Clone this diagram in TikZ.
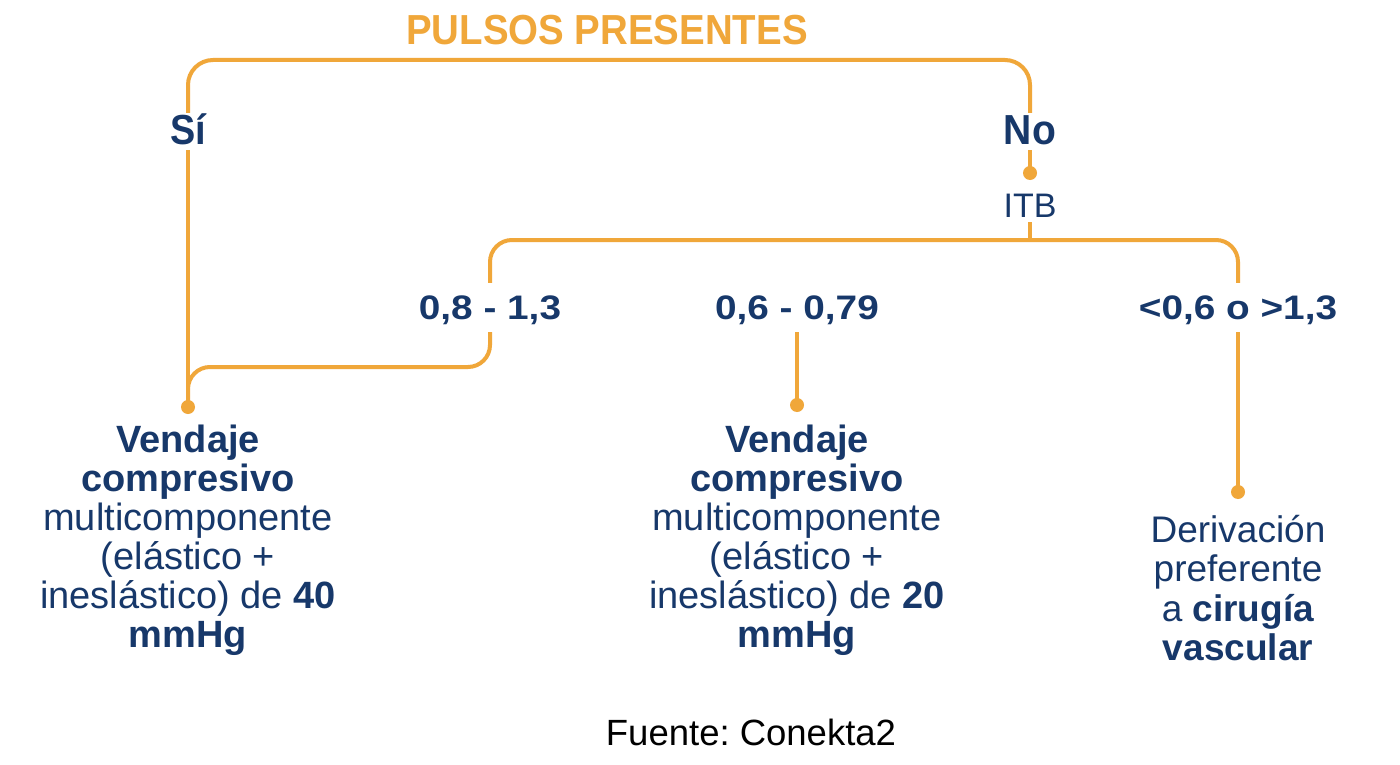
\documentclass[tikz,border=0pt]{standalone}
\usepackage{fontspec}
\setmainfont{Liberation Sans}
\usepackage{graphicx}
\frenchspacing
\definecolor{orng}{RGB}{240,167,58}
\definecolor{navy}{RGB}{23,56,106}
\tikzset{
  conn/.style={draw=orng, line width=4pt},
  dotc/.style={circle, fill=orng, inner sep=0pt, minimum size=14pt},
  bodytxt/.style={font=\fontsize{38}{39}\selectfont, text=navy, align=center, inner sep=0pt},
  sidetxt/.style={font=\fontsize{37}{39.5}\selectfont, text=navy, align=center, inner sep=0pt},
  rangetxt/.style={font=\fontsize{34}{36}\selectfont\bfseries, text=navy, inner sep=5pt, text height=31pt, text depth=8pt},
  yesno/.style={font=\fontsize{42}{44}\selectfont\bfseries, text=navy, inner sep=3pt, text height=29pt, text depth=2pt},
  itbtxt/.style={font=\fontsize{34}{36}\selectfont, text=navy, inner sep=5pt, text depth=0pt},
  titletxt/.style={font=\fontsize{42}{44}\selectfont\bfseries, text=orng, inner sep=0pt},
  srctxt/.style={font=\fontsize{36.5}{38}\selectfont, text=black, inner sep=0pt}
}
\begin{document}
\begin{tikzpicture}[x=1pt,y=-1pt]
\fill[white] (0,0) rectangle (1400,765);
\useasboundingbox (0,0) rectangle (1400,765);

% labels
\node[titletxt, anchor=base] (title) at (607,45) {\scalebox{0.915}[1]{PULSOS PRESENTES}};
\node[yesno, anchor=base] (si) at (188,145) {\scalebox{0.9}[1]{Sí}};
\node[yesno, anchor=base] (no) at (1030,145) {\scalebox{0.93}[1]{No}};
\node[itbtxt, anchor=base] (itb) at (1030,217) {ITB};
\node[rangetxt, anchor=base] (r1) at (490,319) {\scalebox{1.14}[1]{0,8 - 1,3}};
\node[rangetxt, anchor=base] (r2) at (797,319) {\scalebox{1.14}[1]{0,6 - 0,79}};
\node[rangetxt, anchor=base] (r3) at (1238,319) {\scalebox{1.14}[1]{<0,6 o >1,3}};

% dots
\node[dotc] (d0) at (1030,173) {};
\node[dotc] (d1) at (188,407) {};
\node[dotc] (d2) at (797,405) {};
\node[dotc] (d3) at (1238,492) {};

% outcome texts
\node[bodytxt, anchor=north] (o1) at (188,424.5) {\textbf{Vendaje}\\\textbf{compresivo}\\multicomponente\\(elástico +\\ineslástico) de \textbf{40}\\\textbf{mmHg}};
\node[bodytxt, anchor=north] (o2) at (797,424.5) {\textbf{Vendaje}\\\textbf{compresivo}\\multicomponente\\(elástico +\\ineslástico) de \textbf{20}\\\textbf{mmHg}};
\node[sidetxt, anchor=north] (o3) at (1238,515) {Derivación\\preferente\\a \textbf{cirugía}\\\textbf{vascular}};

\node[srctxt, anchor=base] (src) at (751,745) {Fuente: Conekta2};

% coordinates
\coordinate (topc) at (600,60);
\coordinate (itbj) at (1030,240);
\coordinate (jn) at (340,367);

% connectors
\draw[conn, rounded corners=25pt] (si.north) |- (topc) -| (no.north);
\draw[conn] (si.south) -- (d1.center);
\draw[conn] (no.south) -- (d0.center);
\draw[conn] (itb.south) -- (itbj);
\draw[conn, rounded corners=22pt] (r1.north) |- (itbj) -| (r3.north);
\draw[conn, rounded corners=22pt] (r1.south) |- (jn) -| (d1.center);
\draw[conn] (r2.south) -- (d2.center);
\draw[conn] (r3.south) -- (d3.center);
\end{tikzpicture}
\end{document}
